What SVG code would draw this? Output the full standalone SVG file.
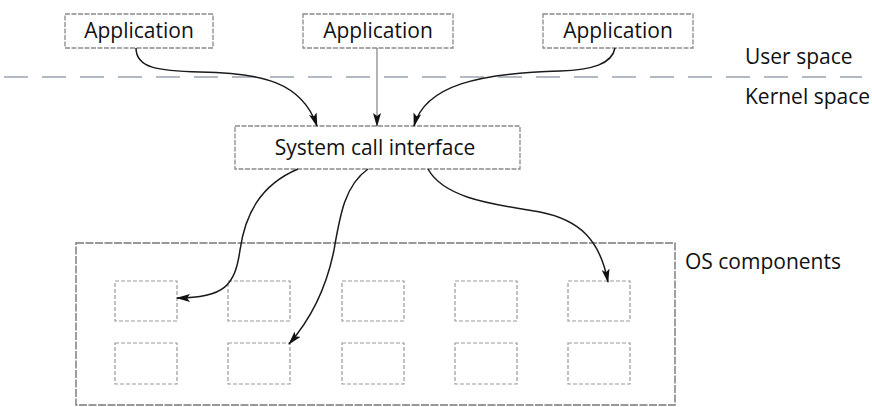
<svg xmlns="http://www.w3.org/2000/svg" width="872" height="407" viewBox="0 0 872 407">
<style>
.bg{fill:#fff}
.box{fill:#fff;stroke:#8a8a8a;stroke-width:1.3;stroke-dasharray:5 1.5}
.outer{fill:#fff;stroke:#777;stroke-width:1.4;stroke-dasharray:8 1.5}
.comp{fill:none;stroke:#9a9a9a;stroke-width:1.2;stroke-dasharray:4 2}
.sep{stroke:#9aa3ad;stroke-width:1.4;stroke-dasharray:24 14}
.lbl{font-family:"Open Sans","Noto Sans",sans-serif;font-size:21px;fill:#111}
.conn{fill:none;stroke:#1a1a1a;stroke-width:1.5}
.thin{fill:none;stroke:#666;stroke-width:1}
</style>
<defs>
<marker id="ah" markerWidth="14" markerHeight="8" refX="13" refY="4" orient="auto" markerUnits="userSpaceOnUse">
<path d="M0,0 L14,4 L0,8 L3,4 Z" fill="#111"/>
</marker>
</defs>
<rect class="bg" x="0" y="0" width="872" height="407"/>
<line class="sep" x1="4" y1="77" x2="862" y2="77"/>
<g id="app1"><rect class="box" x="65" y="14" width="148" height="34"/><text class="lbl" x="139" y="38" text-anchor="middle">Application</text></g>
<g id="app2"><rect class="box" x="303" y="14" width="150" height="34"/><text class="lbl" x="378" y="38" text-anchor="middle">Application</text></g>
<g id="app3"><rect class="box" x="543" y="14" width="150" height="34"/><text class="lbl" x="618" y="38" text-anchor="middle">Application</text></g>
<g id="user-space"><text class="lbl" x="745" y="64">User space</text></g>
<g id="kernel-space"><text class="lbl" x="745" y="104">Kernel space</text></g>
<g id="sci"><rect class="box" x="235" y="126" width="285" height="43"/><text class="lbl" x="375" y="155" text-anchor="middle">System call interface</text></g>
<g id="os"><rect class="outer" x="76" y="243" width="599" height="162"/><text class="lbl" x="685" y="269">OS components</text>
<rect class="comp" x="115" y="281" width="62" height="40"/>
<rect class="comp" x="228" y="281" width="62" height="40"/>
<rect class="comp" x="342" y="281" width="62" height="40"/>
<rect class="comp" x="455" y="281" width="62" height="40"/>
<rect class="comp" x="568" y="281" width="62" height="40"/>
<rect class="comp" x="115" y="343" width="62" height="41"/>
<rect class="comp" x="228" y="343" width="62" height="41"/>
<rect class="comp" x="342" y="343" width="62" height="41"/>
<rect class="comp" x="455" y="343" width="62" height="41"/>
<rect class="comp" x="568" y="343" width="62" height="41"/>
</g>
<g id="connectors">
<path class="conn" d="M136,48 C136,68 158,71 200,72 C262,73 302,82 317,126" marker-end="url(#ah)"/>
<path class="thin" d="M377,48 L377,126" marker-end="url(#ah)"/>
<path class="conn" d="M615,48 C612,64 592,70 560,71 C480,73 425,85 414,126" marker-end="url(#ah)"/>
<path class="conn" d="M298,169 C260,185 245,215 240,250 C235,285 225,298 177,298" marker-end="url(#ah)"/>
<path class="conn" d="M368,169 C345,185 340,215 334,250 C326,290 310,320 289,344" marker-end="url(#ah)"/>
<path class="conn" d="M428,169 C445,200 500,205 540,212 C580,220 600,240 608,282" marker-end="url(#ah)"/>
</g>
</svg>
